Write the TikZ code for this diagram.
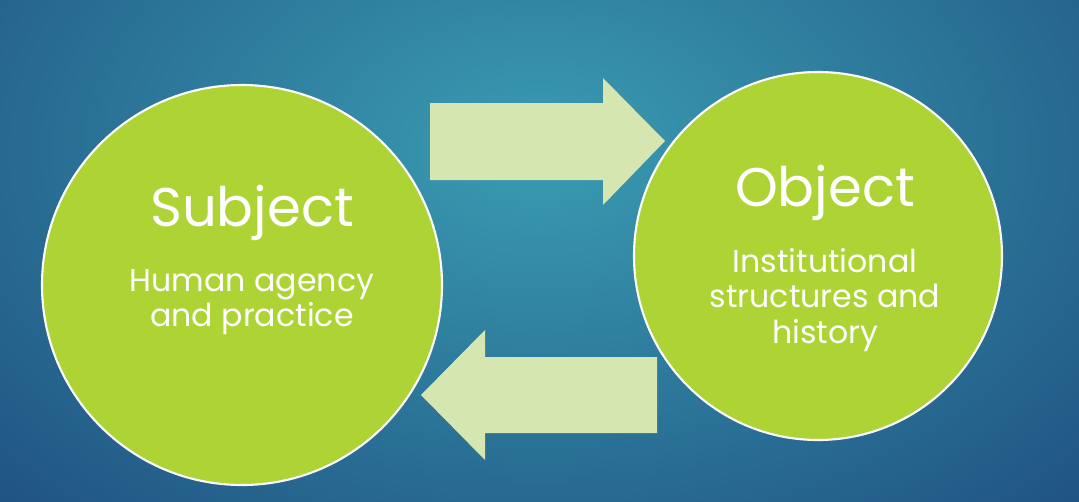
\documentclass[tikz,border=0pt]{standalone}
\usepackage{fontspec}
\setmainfont{Poppins}
\begin{document}
\begin{tikzpicture}[x=0.02cm,y=-0.02cm,
  circ/.style={circle,fill=green!60!yellow!90!black,draw=white,line width=1.2pt},
  arr/.style={fill=green!15!yellow!25!white,draw=none}]
\definecolor{lime}{HTML}{ADD434}
\definecolor{pale}{HTML}{D6E6B0}
\definecolor{bgc}{HTML}{3A9CB2}
\definecolor{bge}{HTML}{1D4C7E}
\useasboundingbox (0,0) rectangle (1079,501);
\shade[outer color=bge,inner color=bgc] (-300,-400) rectangle (1379,700);
\clip (0,0) rectangle (1079,501);
\node[circle,fill=lime,draw=white,line width=1.2pt,minimum size=400*0.02cm,inner sep=0] (s) at (242,285) {};
\node[circle,fill=lime,draw=white,line width=1.2pt,minimum size=368*0.02cm,inner sep=0] (o) at (818,256) {};
\fill[pale] (430,103) -- (603,103) -- (603,78) -- (665,141) -- (603,205) -- (603,180) -- (430,180) -- cycle;
\fill[pale] (657,357) -- (485,357) -- (485,330) -- (421,395) -- (485,460) -- (485,433) -- (657,433) -- cycle;
\node[text=white,font=\fontsize{31}{36}\selectfont] (st) at (252,213) {Subject};
\node[text=white,font=\fontsize{18}{20}\selectfont,align=center] (sd) at (252,302) {Human agency\\and practice};
\node[text=white,font=\fontsize{31}{36}\selectfont] (ot) at (825,193) {Object};
\node[text=white,font=\fontsize{18}{20}\selectfont,align=center] (od) at (825,300) {Institutional\\structures and\\history};
\end{tikzpicture}
\end{document}
